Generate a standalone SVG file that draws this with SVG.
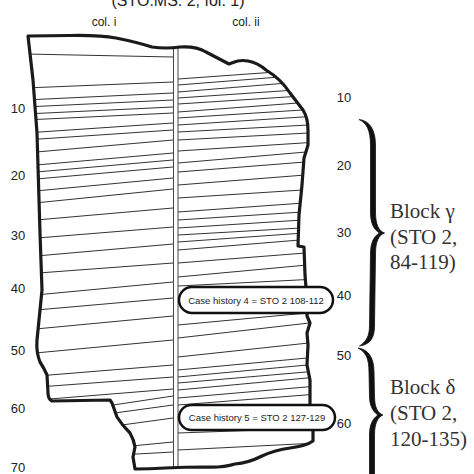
<svg xmlns="http://www.w3.org/2000/svg" width="474" height="474" viewBox="0 0 474 474">
<style>
.sans{font-family:"Liberation Sans",Arial,sans-serif;fill:#222}
.serif{font-family:"Liberation Serif","Times New Roman",serif;fill:#333;font-size:21px}
.h{stroke:#333;stroke-width:1;fill:none}
.box{fill:#fff;stroke:#111;stroke-width:2.5}
.brace{fill:#111;stroke:#111;stroke-width:0.8;stroke-linejoin:round}
</style>
<defs>
<path id="outline" d="M28,36 L70,35.5 Q100,35 116,38 Q136,42 152,47 Q166,49 180,47 Q196,46 206,52 L229,64 L233,62.5 Q240,59.5 248,61 Q258,63 266,70 Q281,79 290,93 L303,110 Q308,118 308,130 L308,145 Q306,152 304,158 L302,185 L299,215 L298,246 L304,247 L305,275 L307,300 L307,316 L310,323 L307,333 L308,345 L307,365 L310,380 L310,412 L313,428 L313,441 Q306,446 290,448 Q275,450 262,456 Q248,463 235,464 Q222,468 205,467 Q185,467 165,468 Q150,469 135,469 L133,457 L135,447 Q134,440 130,433 Q122,425 117,417 L112,403 L110,400 L52,401 Q48,399 48,393 L47,375 Q44,368 40,362 Q36,352 37,340 L40,310 L42,290 L40,233 L37,133 L33,80 Z"/>
<clipPath id="frag"><use href="#outline"/></clipPath>
</defs>
<rect width="474" height="474" fill="#fff"/>
<text class="sans" x="178" y="6" font-size="16" text-anchor="middle">(STO.MS. 2, fol. 1)</text>
<text class="sans" x="104" y="26" font-size="12" text-anchor="middle">col. i</text>
<text class="sans" x="246" y="26" font-size="12" text-anchor="middle">col. ii</text>
<g id="fragment">
<use href="#outline" fill="#fff"/>
<g clip-path="url(#frag)">
<g id="col-i" class="h">
<line x1="25" y1="54" x2="173" y2="57"/>
<line x1="25" y1="88" x2="173" y2="82"/>
<line x1="25" y1="100" x2="173" y2="93"/>
<line x1="25" y1="107" x2="173" y2="100"/>
<line x1="25" y1="114" x2="173" y2="107"/>
<line x1="25" y1="120" x2="173" y2="113"/>
<line x1="25" y1="133" x2="173" y2="123"/>
<line x1="25" y1="140" x2="173" y2="130"/>
<line x1="25" y1="153" x2="173" y2="140"/>
<line x1="25" y1="166" x2="173" y2="153"/>
<line x1="25" y1="173" x2="173" y2="160"/>
<line x1="25" y1="180" x2="173" y2="167"/>
<line x1="25" y1="192" x2="173" y2="178"/>
<line x1="25" y1="204" x2="173" y2="189"/>
<line x1="25" y1="221" x2="173" y2="208"/>
<line x1="25" y1="239" x2="173" y2="227"/>
<line x1="25" y1="257" x2="173" y2="244"/>
<line x1="25" y1="274" x2="173" y2="263"/>
<line x1="25" y1="296" x2="173" y2="282"/>
<line x1="25" y1="311" x2="173" y2="298"/>
<line x1="25" y1="330" x2="173" y2="316"/>
<line x1="25" y1="354" x2="173" y2="340"/>
<line x1="25" y1="377" x2="173" y2="365"/>
<line x1="25" y1="388" x2="173" y2="377"/>
<line x1="25" y1="401" x2="173" y2="389"/>
<line x1="100" y1="407" x2="173" y2="396"/>
<line x1="100" y1="415" x2="173" y2="405"/>
<line x1="100" y1="428" x2="173" y2="418"/>
<line x1="100" y1="449" x2="173" y2="442"/>
<line x1="100" y1="456" x2="173" y2="452"/>
</g>
<g id="col-ii" class="h">
<line x1="178" y1="79" x2="318" y2="69"/>
<line x1="178" y1="85" x2="318" y2="74"/>
<line x1="178" y1="92" x2="318" y2="80.5"/>
<line x1="178" y1="98" x2="318" y2="88.5"/>
<line x1="178" y1="104" x2="318" y2="95"/>
<line x1="178" y1="112" x2="318" y2="101.5"/>
<line x1="178" y1="118" x2="318" y2="109"/>
<line x1="178" y1="125" x2="318" y2="116"/>
<line x1="178" y1="132" x2="318" y2="124.5"/>
<line x1="178" y1="140" x2="318" y2="132.5"/>
<line x1="178" y1="151" x2="318" y2="142"/>
<line x1="178" y1="163" x2="318" y2="151"/>
<line x1="178" y1="172" x2="318" y2="161"/>
<line x1="178" y1="185" x2="318" y2="174"/>
<line x1="178" y1="198" x2="318" y2="189"/>
<line x1="178" y1="212" x2="318" y2="202"/>
<line x1="178" y1="220" x2="318" y2="211"/>
<line x1="178" y1="228" x2="318" y2="219"/>
<line x1="178" y1="235" x2="318" y2="227"/>
<line x1="178" y1="242" x2="318" y2="232"/>
<line x1="178" y1="250" x2="318" y2="238.5"/>
<line x1="178" y1="263" x2="318" y2="252"/>
<line x1="178" y1="277" x2="318" y2="264"/>
<line x1="178" y1="286" x2="318" y2="279"/>
<line x1="178" y1="325" x2="318" y2="312"/>
<line x1="178" y1="338" x2="318" y2="322"/>
<line x1="178" y1="357" x2="318" y2="342"/>
<line x1="178" y1="370" x2="318" y2="357"/>
<line x1="178" y1="377" x2="318" y2="364"/>
<line x1="178" y1="383" x2="318" y2="371"/>
<line x1="178" y1="390" x2="318" y2="377"/>
<line x1="178" y1="398" x2="318" y2="386"/>
<line x1="178" y1="405" x2="318" y2="394"/>
<line x1="178" y1="433" x2="318" y2="428"/>
<line x1="178" y1="450" x2="318" y2="443"/>
</g>
<g id="divider" stroke="#444" stroke-width="1">
<line x1="173.5" y1="40" x2="173.5" y2="474"/>
<line x1="178" y1="40" x2="178" y2="474"/>
</g>
</g>
<use href="#outline" fill="none" stroke="#1a1a1a" stroke-width="3.2" stroke-linejoin="round"/>
</g>
<g id="scale-left" class="sans" font-size="13" text-anchor="middle">
<text x="18" y="113">10</text>
<text x="18" y="180">20</text>
<text x="18" y="240">30</text>
<text x="18" y="293">40</text>
<text x="18" y="355">50</text>
<text x="18" y="413">60</text>
<text x="18" y="472">70</text>
</g>
<g id="scale-right" class="sans" font-size="13" text-anchor="middle">
<text x="344" y="102">10</text>
<text x="344" y="170">20</text>
<text x="344" y="237">30</text>
<text x="344" y="300">40</text>
<text x="344" y="360">50</text>
<text x="344" y="428">60</text>
</g>
<g id="case4">
<rect class="box" x="179" y="287" width="154" height="26" rx="13"/>
<text class="sans" x="256" y="304" font-size="9.5" text-anchor="middle" fill="#111">Case history 4 = STO 2 108-112</text>
</g>
<g id="case5">
<rect class="box" x="179" y="405" width="156" height="25" rx="12.5"/>
<text class="sans" x="257" y="421" font-size="9.5" text-anchor="middle" fill="#111">Case history 5 = STO 2 127-129</text>
</g>
<g id="braces">
<path class="brace" d="M359,119.5 C369,120.5 375.5,129 375.5,145 L375.5,212 C375.5,225 379,231 384.5,233 C379,235 375.5,241 375.5,254 L374.5,326 C374.5,338 370,344.5 359.5,346 C366,342 369.5,336 369.5,326 L370.5,254 C370.5,243 373.5,236.5 379.5,233 C373.5,229.5 370.5,223 370.5,212 L370.5,145 C370.5,131 367,123 359,119.5 Z"/>
<path class="brace" d="M358,348 C368,349.5 374,357 374,372 L374.5,396 C374.5,408 378,413 383,415 C378,417 374.5,423 374.5,435 L374.5,476 L369.5,476 L369.5,435 C369.5,425 372.5,418.5 378,415 C372.5,411.5 369.5,405 369.5,396 L369,372 C369,359 366,352 358,348 Z"/>
</g>
<g id="block-gamma" class="serif">
<text x="390" y="218">Block γ</text>
<text x="390" y="244">(STO 2,</text>
<text x="390" y="269">84-119)</text>
</g>
<g id="block-delta" class="serif">
<text x="390" y="394">Block δ</text>
<text x="390" y="420">(STO 2,</text>
<text x="390" y="446">120-135)</text>
</g>
</svg>
